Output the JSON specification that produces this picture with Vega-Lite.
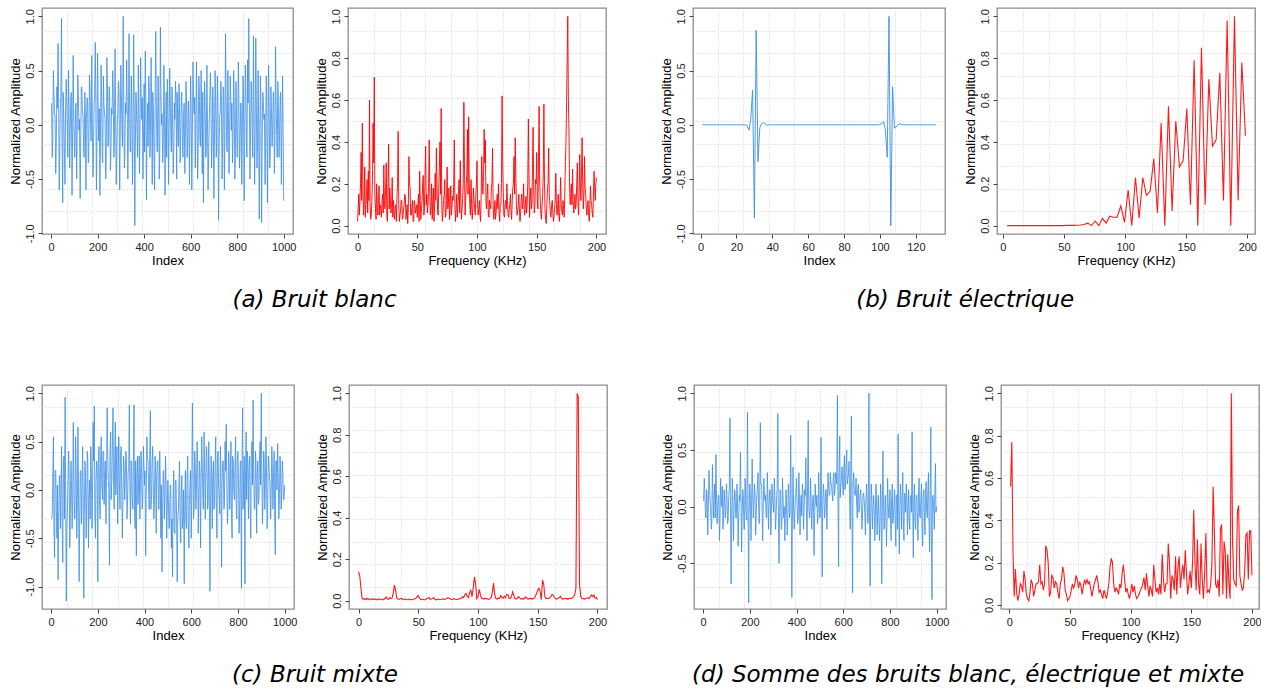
{
"$schema": "https://vega.github.io/schema/vega-lite/v6.json",
"background": "white",
"padding": {"left": 8, "top": 7, "right": 0, "bottom": 0},
"config": {
  "view": {"stroke": "#8c8c8c", "strokeWidth": 1.3},
  "axis": {"labelFont": "Liberation Sans", "titleFont": "Liberation Sans", "labelFontSize": 11, "titleFontSize": 13, "titleFontWeight": "normal", "labelColor": "#222222", "titleColor": "#000000", "tickColor": "#444444", "tickSize": 4, "domain": false, "grid": false, "labelFlush": false, "labelOverlap": false, "labelPadding": 3, "titlePadding": 2, "gridColor": "#d0d0d0", "gridDash": [1, 2]},
  "axisY": {"labelAngle": -90, "labelAlign": "center", "labelBaseline": "bottom"},
  "line": {"strokeWidth": 0.8}
},
"datasets": {
"white_time": [{"i":5,"v":-0.3},{"i":10,"v":0.5},{"i":15,"v":0.1},{"i":20,"v":-0.45},{"i":25,"v":0.35},{"i":30,"v":0.75},{"i":35,"v":-0.6},{"i":40,"v":0.2},{"i":45,"v":0.98},{"i":50,"v":-0.72},
{"i":55,"v":0.05},{"i":60,"v":-0.55},{"i":65,"v":0.42},{"i":70,"v":-0.1},{"i":75,"v":0.5},{"i":80,"v":-0.4},{"i":85,"v":0.25},{"i":90,"v":-0.65},{"i":95,"v":0.64},{"i":100,"v":-0.2},
{"i":105,"v":0.15},{"i":110,"v":-0.5},{"i":115,"v":0.46},{"i":120,"v":-0.05},{"i":125,"v":-0.68},{"i":130,"v":0.35},{"i":135,"v":0.1},{"i":140,"v":-0.2},{"i":145,"v":0.3},{"i":150,"v":-0.6},
{"i":155,"v":0.25},{"i":160,"v":-0.35},{"i":165,"v":0.46},{"i":170,"v":0.0},{"i":175,"v":0.64},{"i":180,"v":-0.48},{"i":185,"v":0.2},{"i":190,"v":0.76},{"i":195,"v":-0.6},{"i":200,"v":0.66},
{"i":205,"v":-0.15},{"i":210,"v":-0.65},{"i":215,"v":0.55},{"i":220,"v":-0.3},{"i":225,"v":0.45},{"i":230,"v":0.1},{"i":235,"v":-0.5},{"i":240,"v":0.62},{"i":245,"v":-0.2},{"i":250,"v":0.35},
{"i":255,"v":-0.42},{"i":260,"v":0.15},{"i":265,"v":0.5},{"i":270,"v":-0.3},{"i":275,"v":0.7},{"i":280,"v":-0.55},{"i":285,"v":0.05},{"i":290,"v":0.4},{"i":295,"v":-0.6},{"i":300,"v":0.55},
{"i":305,"v":-0.1},{"i":310,"v":1.0},{"i":315,"v":-0.4},{"i":320,"v":0.2},{"i":325,"v":0.6},{"i":330,"v":-0.5},{"i":335,"v":0.84},{"i":340,"v":-0.25},{"i":345,"v":0.45},{"i":350,"v":-0.55},
{"i":355,"v":0.83},{"i":360,"v":-0.93},{"i":365,"v":0.3},{"i":370,"v":-0.1},{"i":375,"v":0.55},{"i":380,"v":-0.45},{"i":385,"v":0.62},{"i":390,"v":0.05},{"i":395,"v":-0.5},{"i":400,"v":0.38},
{"i":405,"v":0.68},{"i":410,"v":-0.69},{"i":415,"v":0.2},{"i":420,"v":0.45},{"i":425,"v":-0.3},{"i":430,"v":0.62},{"i":435,"v":-0.55},{"i":440,"v":0.1},{"i":445,"v":-0.6},{"i":450,"v":0.86},
{"i":455,"v":-0.2},{"i":460,"v":0.45},{"i":465,"v":-0.5},{"i":470,"v":0.9},{"i":475,"v":0.0},{"i":480,"v":-0.35},{"i":485,"v":0.55},{"i":490,"v":-0.65},{"i":495,"v":0.3},{"i":500,"v":0.42},
{"i":505,"v":-0.55},{"i":510,"v":0.52},{"i":515,"v":-0.1},{"i":520,"v":0.35},{"i":525,"v":-0.45},{"i":530,"v":0.2},{"i":535,"v":0.4},{"i":540,"v":-0.5},{"i":545,"v":-0.05},{"i":550,"v":0.38},
{"i":555,"v":-0.35},{"i":560,"v":0.25},{"i":565,"v":-0.2},{"i":570,"v":0.1},{"i":575,"v":-0.45},{"i":580,"v":0.4},{"i":585,"v":-0.3},{"i":590,"v":0.22},{"i":595,"v":-0.55},{"i":600,"v":0.45},
{"i":605,"v":-0.6},{"i":610,"v":0.58},{"i":615,"v":0.1},{"i":620,"v":-0.4},{"i":625,"v":0.58},{"i":630,"v":-0.5},{"i":635,"v":0.45},{"i":640,"v":-0.15},{"i":645,"v":0.5},{"i":650,"v":-0.45},
{"i":655,"v":-0.72},{"i":660,"v":0.4},{"i":665,"v":-0.3},{"i":670,"v":0.55},{"i":675,"v":-0.6},{"i":680,"v":0.05},{"i":685,"v":0.48},{"i":690,"v":-0.4},{"i":695,"v":0.35},{"i":700,"v":-0.68},
{"i":705,"v":0.5},{"i":710,"v":-0.3},{"i":715,"v":0.45},{"i":720,"v":-0.88},{"i":725,"v":0.1},{"i":730,"v":0.4},{"i":735,"v":-0.5},{"i":740,"v":0.35},{"i":745,"v":-0.6},{"i":750,"v":0.84},
{"i":755,"v":-0.2},{"i":760,"v":0.5},{"i":765,"v":-0.45},{"i":770,"v":0.45},{"i":775,"v":-0.05},{"i":780,"v":-0.35},{"i":785,"v":0.5},{"i":790,"v":-0.5},{"i":795,"v":0.4},{"i":800,"v":-0.3},
{"i":805,"v":0.58},{"i":810,"v":-0.4},{"i":815,"v":0.2},{"i":820,"v":-0.55},{"i":825,"v":0.45},{"i":830,"v":-0.7},{"i":835,"v":0.55},{"i":840,"v":-0.15},{"i":845,"v":0.6},{"i":850,"v":0.98},
{"i":855,"v":-0.5},{"i":860,"v":0.4},{"i":865,"v":-0.1},{"i":870,"v":0.82},{"i":875,"v":-0.55},{"i":880,"v":0.8},{"i":885,"v":-0.4},{"i":890,"v":0.5},{"i":895,"v":-0.87},{"i":900,"v":0.45},
{"i":905,"v":-0.9},{"i":910,"v":0.3},{"i":915,"v":0.05},{"i":920,"v":-0.55},{"i":925,"v":0.45},{"i":930,"v":-0.72},{"i":935,"v":0.55},{"i":940,"v":-0.4},{"i":945,"v":0.35},{"i":950,"v":-0.2},
{"i":955,"v":0.3},{"i":960,"v":-0.45},{"i":965,"v":0.72},{"i":970,"v":-0.1},{"i":975,"v":0.4},{"i":980,"v":-0.3},{"i":985,"v":0.25},{"i":990,"v":-0.55},{"i":995,"v":0.45},{"i":1000,"v":-0.7},
{"i":2,"v":0.2},{"i":7,"v":-0.15},{"i":12,"v":0.3},{"i":17,"v":0.1},{"i":22,"v":-0.25},{"i":27,"v":0.15},{"i":32,"v":0.35},{"i":37,"v":-0.3},{"i":42,"v":0.25},{"i":47,"v":-0.1},
{"i":52,"v":0.3},{"i":57,"v":-0.2},{"i":62,"v":0.1},{"i":67,"v":0.25},{"i":72,"v":-0.3},{"i":77,"v":0.2},{"i":82,"v":-0.05},{"i":87,"v":0.3},{"i":92,"v":-0.25},{"i":97,"v":0.15},
{"i":102,"v":-0.3},{"i":107,"v":0.2},{"i":112,"v":-0.1},{"i":117,"v":0.3},{"i":122,"v":0.05},{"i":127,"v":-0.25},{"i":132,"v":0.35},{"i":137,"v":0.1},{"i":142,"v":-0.3},{"i":147,"v":0.15},
{"i":152,"v":0.05},{"i":157,"v":0.2},{"i":162,"v":-0.3},{"i":167,"v":0.35},{"i":172,"v":-0.15},{"i":177,"v":0.1},{"i":182,"v":-0.35},{"i":187,"v":0.25},{"i":192,"v":0.3},{"i":197,"v":-0.2},
{"i":202,"v":0.25},{"i":207,"v":0.15},{"i":212,"v":-0.2},{"i":217,"v":0.3},{"i":222,"v":-0.35},{"i":227,"v":0.2},{"i":232,"v":0.05},{"i":237,"v":-0.3},{"i":242,"v":0.4},{"i":247,"v":-0.1},
{"i":252,"v":0.2},{"i":257,"v":-0.3},{"i":262,"v":0.1},{"i":267,"v":0.35},{"i":272,"v":-0.2},{"i":277,"v":0.25},{"i":282,"v":-0.3},{"i":287,"v":0.1},{"i":292,"v":0.3},{"i":297,"v":-0.15},
{"i":302,"v":0.3},{"i":307,"v":-0.2},{"i":312,"v":0.35},{"i":317,"v":-0.3},{"i":322,"v":0.1},{"i":327,"v":0.25},{"i":332,"v":-0.15},{"i":337,"v":0.3},{"i":342,"v":-0.25},{"i":347,"v":0.2},
{"i":352,"v":-0.2},{"i":357,"v":0.35},{"i":362,"v":-0.25},{"i":367,"v":0.15},{"i":372,"v":-0.3},{"i":377,"v":0.2},{"i":382,"v":-0.1},{"i":387,"v":0.3},{"i":392,"v":0.25},{"i":397,"v":-0.2},
{"i":402,"v":-0.25},{"i":407,"v":0.3},{"i":412,"v":-0.1},{"i":417,"v":-0.2},{"i":422,"v":0.35},{"i":427,"v":-0.1},{"i":432,"v":0.2},{"i":437,"v":0.3},{"i":442,"v":-0.25},{"i":447,"v":0.15},
{"i":452,"v":0.3},{"i":457,"v":-0.25},{"i":462,"v":0.2},{"i":467,"v":-0.3},{"i":472,"v":0.35},{"i":477,"v":0.1},{"i":482,"v":-0.2},{"i":487,"v":0.25},{"i":492,"v":-0.15},{"i":497,"v":-0.3},
{"i":502,"v":0.2},{"i":507,"v":-0.15},{"i":512,"v":0.3},{"i":517,"v":-0.25},{"i":522,"v":0.1},{"i":527,"v":-0.3},{"i":532,"v":0.05},{"i":537,"v":0.25},{"i":542,"v":0.3},{"i":547,"v":-0.2},
{"i":552,"v":0.15},{"i":557,"v":-0.1},{"i":562,"v":0.3},{"i":567,"v":-0.3},{"i":572,"v":0.2},{"i":577,"v":-0.15},{"i":582,"v":0.25},{"i":587,"v":-0.2},{"i":592,"v":0.1},{"i":597,"v":-0.05},
{"i":602,"v":0.2},{"i":607,"v":-0.2},{"i":612,"v":0.3},{"i":617,"v":0.25},{"i":622,"v":-0.1},{"i":627,"v":0.2},{"i":632,"v":-0.3},{"i":637,"v":0.35},{"i":642,"v":-0.2},{"i":647,"v":0.1},
{"i":652,"v":0.3},{"i":657,"v":-0.15},{"i":662,"v":0.2},{"i":667,"v":-0.25},{"i":672,"v":0.1},{"i":677,"v":-0.3},{"i":682,"v":0.2},{"i":687,"v":0.25},{"i":692,"v":-0.2},{"i":697,"v":0.15},
{"i":702,"v":-0.2},{"i":707,"v":0.3},{"i":712,"v":-0.15},{"i":717,"v":0.2},{"i":722,"v":-0.3},{"i":727,"v":0.1},{"i":732,"v":0.25},{"i":737,"v":-0.25},{"i":742,"v":0.3},{"i":747,"v":-0.1},
{"i":752,"v":0.3},{"i":757,"v":-0.25},{"i":762,"v":0.15},{"i":767,"v":-0.2},{"i":772,"v":0.3},{"i":777,"v":0.2},{"i":782,"v":-0.15},{"i":787,"v":0.25},{"i":792,"v":-0.3},{"i":797,"v":0.1},
{"i":802,"v":-0.2},{"i":807,"v":0.3},{"i":812,"v":-0.25},{"i":817,"v":0.2},{"i":822,"v":-0.1},{"i":827,"v":0.3},{"i":832,"v":-0.2},{"i":837,"v":0.35},{"i":842,"v":-0.3},{"i":847,"v":0.2},
{"i":852,"v":0.35},{"i":857,"v":-0.2},{"i":862,"v":0.3},{"i":867,"v":-0.3},{"i":872,"v":0.2},{"i":877,"v":-0.15},{"i":882,"v":0.35},{"i":887,"v":-0.25},{"i":892,"v":0.1},{"i":897,"v":-0.2},
{"i":902,"v":0.2},{"i":907,"v":-0.3},{"i":912,"v":0.25},{"i":917,"v":0.1},{"i":922,"v":-0.2},{"i":927,"v":0.3},{"i":932,"v":-0.15},{"i":937,"v":0.2},{"i":942,"v":-0.3},{"i":947,"v":0.15},
{"i":952,"v":-0.1},{"i":957,"v":0.3},{"i":962,"v":-0.2},{"i":967,"v":0.25},{"i":972,"v":-0.3},{"i":977,"v":0.2},{"i":982,"v":-0.1},{"i":987,"v":0.3},{"i":992,"v":-0.15},{"i":997,"v":0.1}],
"white_freq": [{"f":0,"v":0.02},{"f":1,"v":0.15},{"f":2,"v":0.12},{"f":3,"v":0.35},{"f":4,"v":0.49},{"f":5,"v":0.05},{"f":6,"v":0.28},{"f":7,"v":0.1},{"f":8,"v":0.22},{"f":9,"v":0.26},
{"f":10,"v":0.6},{"f":11,"v":0.03},{"f":12,"v":0.12},{"f":13,"v":0.49},{"f":14,"v":0.71},{"f":15,"v":0.08},{"f":16,"v":0.2},{"f":17,"v":0.05},{"f":18,"v":0.19},{"f":19,"v":0.1},
{"f":20,"v":0.04},{"f":21,"v":0.15},{"f":22,"v":0.29},{"f":23,"v":0.08},{"f":24,"v":0.3},{"f":25,"v":0.02},{"f":26,"v":0.39},{"f":27,"v":0.18},{"f":28,"v":0.06},{"f":29,"v":0.23},
{"f":30,"v":0.12},{"f":31,"v":0.03},{"f":32,"v":0.1},{"f":33,"v":0.14},{"f":34,"v":0.45},{"f":35,"v":0.02},{"f":36,"v":0.07},{"f":37,"v":0.12},{"f":38,"v":0.04},{"f":39,"v":0.1},
{"f":40,"v":0.14},{"f":41,"v":0.06},{"f":42,"v":0.01},{"f":43,"v":0.33},{"f":44,"v":0.18},{"f":45,"v":0.05},{"f":46,"v":0.12},{"f":47,"v":0.02},{"f":48,"v":0.1},{"f":49,"v":0.08},
{"f":50,"v":0.04},{"f":51,"v":0.15},{"f":52,"v":0.26},{"f":53,"v":0.03},{"f":54,"v":0.12},{"f":55,"v":0.24},{"f":56,"v":0.08},{"f":57,"v":0.38},{"f":58,"v":0.15},{"f":59,"v":0.1},
{"f":60,"v":0.41},{"f":61,"v":0.05},{"f":62,"v":0.2},{"f":63,"v":0.12},{"f":64,"v":0.02},{"f":65,"v":0.25},{"f":66,"v":0.37},{"f":67,"v":0.07},{"f":68,"v":0.18},{"f":69,"v":0.4},
{"f":70,"v":0.56},{"f":71,"v":0.02},{"f":72,"v":0.12},{"f":73,"v":0.22},{"f":74,"v":0.05},{"f":75,"v":0.28},{"f":76,"v":0.1},{"f":77,"v":0.03},{"f":78,"v":0.19},{"f":79,"v":0.08},
{"f":80,"v":0.12},{"f":81,"v":0.41},{"f":82,"v":0.02},{"f":83,"v":0.15},{"f":84,"v":0.09},{"f":85,"v":0.22},{"f":86,"v":0.31},{"f":87,"v":0.03},{"f":88,"v":0.13},{"f":89,"v":0.59},
{"f":90,"v":0.05},{"f":91,"v":0.2},{"f":92,"v":0.46},{"f":93,"v":0.52},{"f":94,"v":0.1},{"f":95,"v":0.22},{"f":96,"v":0.03},{"f":97,"v":0.18},{"f":98,"v":0.08},{"f":99,"v":0.14},
{"f":100,"v":0.31},{"f":101,"v":0.05},{"f":102,"v":0.12},{"f":103,"v":0.02},{"f":104,"v":0.33},{"f":105,"v":0.15},{"f":106,"v":0.46},{"f":107,"v":0.41},{"f":108,"v":0.08},{"f":109,"v":0.2},
{"f":110,"v":0.04},{"f":111,"v":0.1},{"f":112,"v":0.18},{"f":113,"v":0.37},{"f":114,"v":0.03},{"f":115,"v":0.12},{"f":116,"v":0.06},{"f":117,"v":0.15},{"f":118,"v":0.2},{"f":119,"v":0.02},
{"f":120,"v":0.1},{"f":121,"v":0.62},{"f":122,"v":0.16},{"f":123,"v":0.04},{"f":124,"v":0.12},{"f":125,"v":0.2},{"f":126,"v":0.05},{"f":127,"v":0.08},{"f":128,"v":0.15},{"f":129,"v":0.03},
{"f":130,"v":0.18},{"f":131,"v":0.33},{"f":132,"v":0.42},{"f":133,"v":0.1},{"f":134,"v":0.06},{"f":135,"v":0.15},{"f":136,"v":0.02},{"f":137,"v":0.12},{"f":138,"v":0.08},{"f":139,"v":0.2},
{"f":140,"v":0.05},{"f":141,"v":0.14},{"f":142,"v":0.1},{"f":143,"v":0.51},{"f":144,"v":0.04},{"f":145,"v":0.18},{"f":146,"v":0.1},{"f":147,"v":0.47},{"f":148,"v":0.06},{"f":149,"v":0.22},
{"f":150,"v":0.35},{"f":151,"v":0.08},{"f":152,"v":0.57},{"f":153,"v":0.12},{"f":154,"v":0.03},{"f":155,"v":0.15},{"f":156,"v":0.58},{"f":157,"v":0.06},{"f":158,"v":0.01},{"f":159,"v":0.18},
{"f":160,"v":0.37},{"f":161,"v":0.1},{"f":162,"v":0.04},{"f":163,"v":0.12},{"f":164,"v":0.02},{"f":165,"v":0.08},{"f":166,"v":0.25},{"f":167,"v":0.05},{"f":168,"v":0.15},{"f":169,"v":0.02},
{"f":170,"v":0.23},{"f":171,"v":0.07},{"f":172,"v":0.12},{"f":173,"v":0.04},{"f":174,"v":0.3},{"f":175,"v":0.59},{"f":176,"v":1.0},{"f":177,"v":0.45},{"f":178,"v":0.1},{"f":179,"v":0.2},
{"f":180,"v":0.27},{"f":181,"v":0.06},{"f":182,"v":0.15},{"f":183,"v":0.1},{"f":184,"v":0.3},{"f":185,"v":0.05},{"f":186,"v":0.34},{"f":187,"v":0.12},{"f":188,"v":0.42},{"f":189,"v":0.08},
{"f":190,"v":0.33},{"f":191,"v":0.15},{"f":192,"v":0.05},{"f":193,"v":0.12},{"f":194,"v":0.02},{"f":195,"v":0.19},{"f":196,"v":0.1},{"f":197,"v":0.04},{"f":198,"v":0.26},{"f":199,"v":0.12},{"f":200,"v":0.23},
{"f":0.5,"v":0.08},{"f":1.5,"v":0.05},{"f":2.5,"v":0.2},{"f":3.5,"v":0.12},{"f":4.5,"v":0.18},{"f":5.5,"v":0.1},{"f":6.5,"v":0.04},{"f":7.5,"v":0.15},{"f":8.5,"v":0.06},{"f":9.5,"v":0.12},
{"f":10.5,"v":0.1},{"f":11.5,"v":0.05},{"f":12.5,"v":0.22},{"f":13.5,"v":0.3},{"f":14.5,"v":0.15},{"f":15.5,"v":0.03},{"f":16.5,"v":0.1},{"f":17.5,"v":0.12},{"f":18.5,"v":0.05},{"f":19.5,"v":0.08},
{"f":20.5,"v":0.12},{"f":21.5,"v":0.06},{"f":22.5,"v":0.1},{"f":23.5,"v":0.18},{"f":24.5,"v":0.05},{"f":25.5,"v":0.2},{"f":26.5,"v":0.08},{"f":27.5,"v":0.12},{"f":28.5,"v":0.1},{"f":29.5,"v":0.04},
{"f":30.5,"v":0.06},{"f":31.5,"v":0.09},{"f":32.5,"v":0.02},{"f":33.5,"v":0.2},{"f":34.5,"v":0.1},{"f":35.5,"v":0.05},{"f":36.5,"v":0.12},{"f":37.5,"v":0.03},{"f":38.5,"v":0.08},{"f":39.5,"v":0.15},
{"f":40.5,"v":0.03},{"f":41.5,"v":0.1},{"f":42.5,"v":0.08},{"f":43.5,"v":0.2},{"f":44.5,"v":0.05},{"f":45.5,"v":0.09},{"f":46.5,"v":0.02},{"f":47.5,"v":0.12},{"f":48.5,"v":0.06},{"f":49.5,"v":0.1},
{"f":50.5,"v":0.1},{"f":51.5,"v":0.02},{"f":52.5,"v":0.12},{"f":53.5,"v":0.08},{"f":54.5,"v":0.2},{"f":55.5,"v":0.05},{"f":56.5,"v":0.25},{"f":57.5,"v":0.1},{"f":58.5,"v":0.06},{"f":59.5,"v":0.2},
{"f":60.5,"v":0.15},{"f":61.5,"v":0.08},{"f":62.5,"v":0.03},{"f":63.5,"v":0.18},{"f":64.5,"v":0.1},{"f":65.5,"v":0.12},{"f":66.5,"v":0.2},{"f":67.5,"v":0.05},{"f":68.5,"v":0.28},{"f":69.5,"v":0.15},
{"f":70.5,"v":0.1},{"f":71.5,"v":0.06},{"f":72.5,"v":0.15},{"f":73.5,"v":0.04},{"f":74.5,"v":0.12},{"f":75.5,"v":0.08},{"f":76.5,"v":0.18},{"f":77.5,"v":0.1},{"f":78.5,"v":0.05},{"f":79.5,"v":0.14},
{"f":80.5,"v":0.2},{"f":81.5,"v":0.1},{"f":82.5,"v":0.08},{"f":83.5,"v":0.04},{"f":84.5,"v":0.15},{"f":85.5,"v":0.06},{"f":86.5,"v":0.12},{"f":87.5,"v":0.08},{"f":88.5,"v":0.2},{"f":89.5,"v":0.3},
{"f":90.5,"v":0.12},{"f":91.5,"v":0.25},{"f":92.5,"v":0.15},{"f":93.5,"v":0.2},{"f":94.5,"v":0.05},{"f":95.5,"v":0.1},{"f":96.5,"v":0.08},{"f":97.5,"v":0.12},{"f":98.5,"v":0.05},{"f":99.5,"v":0.2},
{"f":100.5,"v":0.1},{"f":101.5,"v":0.08},{"f":102.5,"v":0.05},{"f":103.5,"v":0.15},{"f":104.5,"v":0.2},{"f":105.5,"v":0.25},{"f":106.5,"v":0.3},{"f":107.5,"v":0.12},{"f":108.5,"v":0.15},{"f":109.5,"v":0.05},
{"f":110.5,"v":0.12},{"f":111.5,"v":0.08},{"f":112.5,"v":0.2},{"f":113.5,"v":0.1},{"f":114.5,"v":0.07},{"f":115.5,"v":0.03},{"f":116.5,"v":0.12},{"f":117.5,"v":0.08},{"f":118.5,"v":0.06},{"f":119.5,"v":0.1},
{"f":120.5,"v":0.2},{"f":121.5,"v":0.3},{"f":122.5,"v":0.05},{"f":123.5,"v":0.1},{"f":124.5,"v":0.08},{"f":125.5,"v":0.12},{"f":126.5,"v":0.04},{"f":127.5,"v":0.1},{"f":128.5,"v":0.06},{"f":129.5,"v":0.12},
{"f":130.5,"v":0.2},{"f":131.5,"v":0.15},{"f":132.5,"v":0.25},{"f":133.5,"v":0.05},{"f":134.5,"v":0.1},{"f":135.5,"v":0.08},{"f":136.5,"v":0.06},{"f":137.5,"v":0.15},{"f":138.5,"v":0.1},{"f":139.5,"v":0.08},
{"f":140.5,"v":0.1},{"f":141.5,"v":0.06},{"f":142.5,"v":0.2},{"f":143.5,"v":0.25},{"f":144.5,"v":0.12},{"f":145.5,"v":0.08},{"f":146.5,"v":0.3},{"f":147.5,"v":0.15},{"f":148.5,"v":0.1},{"f":149.5,"v":0.2},
{"f":150.5,"v":0.12},{"f":151.5,"v":0.3},{"f":152.5,"v":0.2},{"f":153.5,"v":0.05},{"f":154.5,"v":0.1},{"f":155.5,"v":0.25},{"f":156.5,"v":0.2},{"f":157.5,"v":0.03},{"f":158.5,"v":0.1},{"f":159.5,"v":0.2},
{"f":160.5,"v":0.15},{"f":161.5,"v":0.05},{"f":162.5,"v":0.1},{"f":163.5,"v":0.06},{"f":164.5,"v":0.05},{"f":165.5,"v":0.12},{"f":166.5,"v":0.1},{"f":167.5,"v":0.08},{"f":168.5,"v":0.05},{"f":169.5,"v":0.1},
{"f":170.5,"v":0.1},{"f":171.5,"v":0.05},{"f":172.5,"v":0.08},{"f":173.5,"v":0.15},{"f":174.5,"v":0.4},{"f":175.5,"v":0.8},{"f":176.5,"v":0.6},{"f":177.5,"v":0.2},{"f":178.5,"v":0.15},{"f":179.5,"v":0.1},
{"f":180.5,"v":0.12},{"f":181.5,"v":0.1},{"f":182.5,"v":0.08},{"f":183.5,"v":0.2},{"f":184.5,"v":0.12},{"f":185.5,"v":0.15},{"f":186.5,"v":0.2},{"f":187.5,"v":0.25},{"f":188.5,"v":0.2},{"f":189.5,"v":0.15},
{"f":190.5,"v":0.18},{"f":191.5,"v":0.08},{"f":192.5,"v":0.1},{"f":193.5,"v":0.05},{"f":194.5,"v":0.1},{"f":195.5,"v":0.12},{"f":196.5,"v":0.06},{"f":197.5,"v":0.15},{"f":198.5,"v":0.18},{"f":199.5,"v":0.2}],
"elec_time": [{"i":1,"v":0},{"i":2,"v":0},{"i":3,"v":0},{"i":4,"v":0},{"i":5,"v":0},{"i":6,"v":0},{"i":7,"v":0},{"i":8,"v":0},{"i":9,"v":0},{"i":10,"v":0},
{"i":11,"v":0},{"i":12,"v":0},{"i":13,"v":0},{"i":14,"v":0},{"i":15,"v":0},{"i":16,"v":0},{"i":17,"v":0},{"i":18,"v":0},{"i":19,"v":0},{"i":20,"v":0},
{"i":21,"v":0},{"i":22,"v":0},{"i":23,"v":0},{"i":24,"v":0},{"i":25,"v":0},{"i":26,"v":-0.01},{"i":27,"v":-0.05},{"i":28,"v":0.06},{"i":29,"v":0.32},{"i":30,"v":-0.86},
{"i":31,"v":0.87},{"i":32,"v":-0.34},{"i":33,"v":-0.03},{"i":34,"v":0.01},{"i":35,"v":0.02},{"i":36,"v":0.01},{"i":37,"v":-0.005},{"i":38,"v":0},{"i":39,"v":0},{"i":40,"v":0},
{"i":41,"v":0},{"i":42,"v":0},{"i":43,"v":0},{"i":44,"v":0},{"i":45,"v":0},{"i":46,"v":0},{"i":47,"v":0},{"i":48,"v":0},{"i":49,"v":0},{"i":50,"v":0},
{"i":51,"v":0},{"i":52,"v":0},{"i":53,"v":0},{"i":54,"v":0},{"i":55,"v":0},{"i":56,"v":0},{"i":57,"v":0},{"i":58,"v":0},{"i":59,"v":0},{"i":60,"v":0},
{"i":61,"v":0},{"i":62,"v":0},{"i":63,"v":0},{"i":64,"v":0},{"i":65,"v":0},{"i":66,"v":0},{"i":67,"v":0},{"i":68,"v":0},{"i":69,"v":0},{"i":70,"v":0},
{"i":71,"v":0},{"i":72,"v":0},{"i":73,"v":0},{"i":74,"v":0},{"i":75,"v":0},{"i":76,"v":0},{"i":77,"v":0},{"i":78,"v":0},{"i":79,"v":0},{"i":80,"v":0},
{"i":81,"v":0},{"i":82,"v":0},{"i":83,"v":0},{"i":84,"v":0},{"i":85,"v":0},{"i":86,"v":0},{"i":87,"v":0},{"i":88,"v":0},{"i":89,"v":0},{"i":90,"v":0},
{"i":91,"v":0},{"i":92,"v":0},{"i":93,"v":0},{"i":94,"v":0},{"i":95,"v":0},{"i":96,"v":0},{"i":97,"v":0},{"i":98,"v":0},{"i":99,"v":0},{"i":100,"v":0.005},
{"i":101,"v":0.01},{"i":102,"v":0.03},{"i":103,"v":-0.05},{"i":104,"v":-0.3},{"i":105,"v":1.0},{"i":106,"v":-0.93},{"i":107,"v":0.35},{"i":108,"v":-0.03},{"i":109,"v":-0.02},{"i":110,"v":0.0},
{"i":111,"v":0.01},{"i":112,"v":0.005},{"i":113,"v":0},{"i":114,"v":0},{"i":115,"v":0},{"i":116,"v":0},{"i":117,"v":0},{"i":118,"v":0},{"i":119,"v":0},{"i":120,"v":0},
{"i":121,"v":0},{"i":122,"v":0},{"i":123,"v":0},{"i":124,"v":0},{"i":125,"v":0},{"i":126,"v":0},{"i":127,"v":0},{"i":128,"v":0},{"i":129,"v":0},{"i":130,"v":0},{"i":131,"v":0}],
"elec_freq": [{"f":3.5,"v":0},{"f":6.5,"v":0},{"f":9.5,"v":0},{"f":12.5,"v":0},{"f":15.5,"v":0},{"f":18.5,"v":0},{"f":21.5,"v":0},{"f":24.5,"v":0},{"f":27.5,"v":0},{"f":30.5,"v":0},
{"f":33.5,"v":0},{"f":36.5,"v":0},{"f":39.5,"v":0},{"f":42.5,"v":0},{"f":45.5,"v":0},{"f":48.5,"v":0},{"f":51.5,"v":0.001},{"f":54.5,"v":0.001},{"f":57.5,"v":0.001},{"f":60.5,"v":0.002},
{"f":63.5,"v":0.003},{"f":66.5,"v":0.005},{"f":69.5,"v":0.012},{"f":72.5,"v":0},{"f":75.5,"v":0.022},{"f":78.5,"v":0},{"f":81.5,"v":0.035},{"f":84.5,"v":0.012},{"f":87.5,"v":0.045},{"f":90.5,"v":0.04},
{"f":93.5,"v":0.04},{"f":96.5,"v":0.095},{"f":99.5,"v":0.015},{"f":102.5,"v":0.17},{"f":105.5,"v":0},{"f":108.5,"v":0.23},{"f":111.5,"v":0.035},{"f":114.5,"v":0.23},{"f":117.5,"v":0.145},{"f":120.5,"v":0.165},
{"f":123.5,"v":0.32},{"f":126.5,"v":0.06},{"f":129.5,"v":0.49},{"f":132.5,"v":0},{"f":135.5,"v":0.57},{"f":138.5,"v":0.07},{"f":141.5,"v":0.5},{"f":144.5,"v":0.28},{"f":147.5,"v":0.31},{"f":150.5,"v":0.56},
{"f":153.5,"v":0.1},{"f":156.5,"v":0.79},{"f":159.5,"v":0},{"f":162.5,"v":0.85},{"f":165.5,"v":0.1},{"f":168.5,"v":0.7},{"f":171.5,"v":0.38},{"f":174.5,"v":0.41},{"f":177.5,"v":0.73},{"f":180.5,"v":0.12},
{"f":183.5,"v":0.98},{"f":186.5,"v":0},{"f":189.5,"v":1.0},{"f":192.5,"v":0.12},{"f":195.5,"v":0.78},{"f":198.5,"v":0.43}],
"mixed_time": [{"i":5,"v":-0.25},{"i":10,"v":0.55},{"i":15,"v":-0.7},{"i":20,"v":0.2},{"i":25,"v":-0.5},{"i":30,"v":-0.93},{"i":35,"v":0.1},{"i":40,"v":-0.4},{"i":45,"v":0.45},{"i":50,"v":-0.75},
{"i":55,"v":0.35},{"i":60,"v":0.96},{"i":65,"v":-1.15},{"i":70,"v":-0.2},{"i":75,"v":0.4},{"i":80,"v":-0.6},{"i":85,"v":0.3},{"i":90,"v":-0.4},{"i":95,"v":0.7},{"i":100,"v":-0.3},
{"i":105,"v":0.55},{"i":110,"v":-0.5},{"i":115,"v":0.65},{"i":120,"v":-0.95},{"i":125,"v":0.2},{"i":130,"v":-0.35},{"i":135,"v":0.45},{"i":140,"v":-1.12},{"i":145,"v":0.3},{"i":150,"v":-0.5},
{"i":155,"v":0.4},{"i":160,"v":-0.6},{"i":165,"v":0.1},{"i":170,"v":0.45},{"i":175,"v":-0.4},{"i":180,"v":0.7},{"i":185,"v":0.87},{"i":190,"v":-0.5},{"i":195,"v":0.3},{"i":200,"v":-0.95},
{"i":205,"v":0.45},{"i":210,"v":-0.3},{"i":215,"v":0.55},{"i":220,"v":-0.1},{"i":225,"v":0.4},{"i":230,"v":0.2},{"i":235,"v":-0.35},{"i":240,"v":0.85},{"i":245,"v":0.1},{"i":250,"v":-0.78},
{"i":255,"v":0.6},{"i":260,"v":0.1},{"i":265,"v":0.85},{"i":270,"v":-0.2},{"i":275,"v":0.7},{"i":280,"v":0.3},{"i":285,"v":-0.35},{"i":290,"v":0.55},{"i":295,"v":-0.2},{"i":300,"v":0.45},
{"i":305,"v":-0.5},{"i":310,"v":0.35},{"i":315,"v":-0.1},{"i":320,"v":0.4},{"i":325,"v":-0.3},{"i":330,"v":0.2},{"i":335,"v":0.88},{"i":340,"v":-0.35},{"i":345,"v":0.3},{"i":350,"v":-0.2},
{"i":355,"v":0.88},{"i":360,"v":-0.4},{"i":365,"v":-0.68},{"i":370,"v":0.35},{"i":375,"v":0.1},{"i":380,"v":-0.3},{"i":385,"v":0.4},{"i":390,"v":-0.2},{"i":395,"v":0.45},{"i":400,"v":0.05},
{"i":405,"v":-0.68},{"i":410,"v":0.55},{"i":415,"v":0.3},{"i":420,"v":-0.2},{"i":425,"v":0.82},{"i":430,"v":-0.1},{"i":435,"v":0.45},{"i":440,"v":-0.3},{"i":445,"v":0.35},{"i":450,"v":-0.45},
{"i":455,"v":0.3},{"i":460,"v":-0.2},{"i":465,"v":0.4},{"i":470,"v":-0.5},{"i":475,"v":-0.85},{"i":480,"v":0.2},{"i":485,"v":-0.3},{"i":490,"v":0.35},{"i":495,"v":-0.5},{"i":500,"v":0.1},
{"i":505,"v":-0.4},{"i":510,"v":0.05},{"i":515,"v":-0.6},{"i":520,"v":-0.9},{"i":525,"v":0.2},{"i":530,"v":-0.45},{"i":535,"v":0.1},{"i":540,"v":-0.95},{"i":545,"v":-0.2},{"i":550,"v":0.3},
{"i":555,"v":-0.55},{"i":560,"v":0.15},{"i":565,"v":-0.3},{"i":570,"v":-0.97},{"i":575,"v":0.2},{"i":580,"v":-0.4},{"i":585,"v":0.35},{"i":590,"v":-0.6},{"i":595,"v":0.1},{"i":600,"v":-0.5},
{"i":605,"v":0.9},{"i":610,"v":-0.3},{"i":615,"v":0.4},{"i":620,"v":-0.2},{"i":625,"v":0.5},{"i":630,"v":-0.45},{"i":635,"v":0.3},{"i":640,"v":-0.6},{"i":645,"v":0.55},{"i":650,"v":-0.1},
{"i":655,"v":0.6},{"i":660,"v":-0.3},{"i":665,"v":0.45},{"i":670,"v":-0.2},{"i":675,"v":0.5},{"i":680,"v":-1.05},{"i":685,"v":0.35},{"i":690,"v":-0.4},{"i":695,"v":0.3},{"i":700,"v":-0.15},
{"i":705,"v":0.55},{"i":710,"v":-0.5},{"i":715,"v":0.4},{"i":720,"v":-0.1},{"i":725,"v":0.45},{"i":730,"v":-0.8},{"i":735,"v":0.3},{"i":740,"v":-0.2},{"i":745,"v":0.5},{"i":750,"v":0.68},
{"i":755,"v":-0.35},{"i":760,"v":0.4},{"i":765,"v":-0.2},{"i":770,"v":0.5},{"i":775,"v":-0.5},{"i":780,"v":0.3},{"i":785,"v":-0.1},{"i":790,"v":0.55},{"i":795,"v":-0.3},{"i":800,"v":0.4},
{"i":805,"v":-0.45},{"i":810,"v":0.3},{"i":815,"v":-1.02},{"i":820,"v":0.85},{"i":825,"v":0.2},{"i":830,"v":-0.97},{"i":835,"v":0.6},{"i":840,"v":0.4},{"i":845,"v":-0.3},{"i":850,"v":0.35},
{"i":855,"v":-0.5},{"i":860,"v":0.5},{"i":865,"v":0.93},{"i":870,"v":-0.2},{"i":875,"v":0.4},{"i":880,"v":-0.45},{"i":885,"v":0.3},{"i":890,"v":-0.1},{"i":895,"v":0.5},{"i":900,"v":1.0},
{"i":905,"v":-0.35},{"i":910,"v":0.4},{"i":915,"v":-0.2},{"i":920,"v":0.55},{"i":925,"v":-0.4},{"i":930,"v":0.35},{"i":935,"v":0.1},{"i":940,"v":-0.3},{"i":945,"v":0.45},{"i":950,"v":-0.2},
{"i":955,"v":0.4},{"i":960,"v":-0.67},{"i":965,"v":0.3},{"i":970,"v":0.48},{"i":975,"v":-0.3},{"i":980,"v":0.35},{"i":985,"v":-0.2},{"i":990,"v":0.3},{"i":995,"v":-0.1},{"i":1000,"v":0.05},
{"i":2,"v":-0.3},{"i":7,"v":0.1},{"i":12,"v":-0.4},{"i":17,"v":0.2},{"i":22,"v":-0.2},{"i":27,"v":0.05},{"i":32,"v":-0.35},{"i":37,"v":0.15},{"i":42,"v":-0.1},{"i":47,"v":-0.3},
{"i":52,"v":0.2},{"i":57,"v":-0.3},{"i":62,"v":0.1},{"i":67,"v":-0.4},{"i":72,"v":0.05},{"i":77,"v":0.2},{"i":82,"v":-0.35},{"i":87,"v":0.1},{"i":92,"v":-0.2},{"i":97,"v":0.15},
{"i":102,"v":-0.3},{"i":107,"v":0.25},{"i":112,"v":-0.2},{"i":117,"v":0.1},{"i":122,"v":-0.4},{"i":127,"v":0.2},{"i":132,"v":-0.1},{"i":137,"v":0.05},{"i":142,"v":-0.3},{"i":147,"v":0.15},
{"i":152,"v":-0.2},{"i":157,"v":0.3},{"i":162,"v":-0.1},{"i":167,"v":-0.3},{"i":172,"v":0.25},{"i":177,"v":-0.15},{"i":182,"v":0.3},{"i":187,"v":-0.2},{"i":192,"v":0.1},{"i":197,"v":0.25},
{"i":202,"v":0.3},{"i":207,"v":-0.1},{"i":212,"v":0.35},{"i":217,"v":0.05},{"i":222,"v":0.4},{"i":227,"v":-0.15},{"i":232,"v":0.3},{"i":237,"v":0.1},{"i":242,"v":0.45},{"i":247,"v":0.0},
{"i":252,"v":0.35},{"i":257,"v":-0.1},{"i":262,"v":0.4},{"i":267,"v":0.15},{"i":272,"v":0.3},{"i":277,"v":-0.05},{"i":282,"v":0.45},{"i":287,"v":0.2},{"i":292,"v":0.1},{"i":297,"v":0.35},
{"i":302,"v":0.1},{"i":307,"v":-0.2},{"i":312,"v":0.3},{"i":317,"v":0.05},{"i":322,"v":0.35},{"i":327,"v":-0.15},{"i":332,"v":0.2},{"i":337,"v":0.1},{"i":342,"v":0.3},{"i":347,"v":-0.1},
{"i":352,"v":0.25},{"i":357,"v":-0.2},{"i":362,"v":0.3},{"i":367,"v":0.1},{"i":372,"v":-0.15},{"i":377,"v":0.35},{"i":382,"v":0.0},{"i":387,"v":0.25},{"i":392,"v":-0.1},{"i":397,"v":0.3},
{"i":402,"v":0.2},{"i":407,"v":-0.1},{"i":412,"v":0.35},{"i":417,"v":0.05},{"i":422,"v":0.3},{"i":427,"v":-0.2},{"i":432,"v":0.25},{"i":437,"v":0.1},{"i":442,"v":-0.15},{"i":447,"v":0.3},
{"i":452,"v":0.1},{"i":457,"v":0.3},{"i":462,"v":-0.2},{"i":467,"v":0.15},{"i":472,"v":0.05},{"i":477,"v":-0.3},{"i":482,"v":0.2},{"i":487,"v":-0.1},{"i":492,"v":0.1},{"i":497,"v":-0.25},
{"i":502,"v":-0.1},{"i":507,"v":-0.35},{"i":512,"v":0.05},{"i":517,"v":-0.3},{"i":522,"v":-0.1},{"i":527,"v":-0.4},{"i":532,"v":0.1},{"i":537,"v":-0.25},{"i":542,"v":-0.35},{"i":547,"v":0.05},
{"i":552,"v":-0.3},{"i":557,"v":-0.05},{"i":562,"v":-0.4},{"i":567,"v":0.0},{"i":572,"v":-0.25},{"i":577,"v":-0.35},{"i":582,"v":0.1},{"i":587,"v":-0.3},{"i":592,"v":-0.15},{"i":597,"v":0.2},
{"i":602,"v":-0.1},{"i":607,"v":0.3},{"i":612,"v":-0.2},{"i":617,"v":0.25},{"i":622,"v":0.0},{"i":627,"v":0.35},{"i":632,"v":-0.15},{"i":637,"v":0.2},{"i":642,"v":0.05},{"i":647,"v":0.3},
{"i":652,"v":-0.2},{"i":657,"v":0.3},{"i":662,"v":0.05},{"i":667,"v":0.35},{"i":672,"v":-0.15},{"i":677,"v":0.2},{"i":682,"v":-0.3},{"i":687,"v":0.25},{"i":692,"v":0.1},{"i":697,"v":-0.2},
{"i":702,"v":0.25},{"i":707,"v":-0.1},{"i":712,"v":0.3},{"i":717,"v":0.05},{"i":722,"v":-0.25},{"i":727,"v":0.2},{"i":732,"v":0.1},{"i":737,"v":0.3},{"i":742,"v":-0.15},{"i":747,"v":0.2},
{"i":752,"v":0.1},{"i":757,"v":-0.2},{"i":762,"v":0.3},{"i":767,"v":0.05},{"i":772,"v":-0.25},{"i":777,"v":0.35},{"i":782,"v":0.0},{"i":787,"v":0.2},{"i":792,"v":-0.1},{"i":797,"v":0.3},
{"i":802,"v":0.15},{"i":807,"v":-0.25},{"i":812,"v":0.3},{"i":817,"v":0.1},{"i":822,"v":-0.2},{"i":827,"v":0.35},{"i":832,"v":0.05},{"i":837,"v":-0.1},{"i":842,"v":0.3},{"i":847,"v":0.2},
{"i":852,"v":-0.1},{"i":857,"v":0.35},{"i":862,"v":0.05},{"i":867,"v":0.25},{"i":872,"v":-0.2},{"i":877,"v":0.3},{"i":882,"v":0.1},{"i":887,"v":-0.15},{"i":892,"v":0.3},{"i":897,"v":0.05},
{"i":902,"v":0.2},{"i":907,"v":-0.15},{"i":912,"v":0.35},{"i":917,"v":0.0},{"i":922,"v":0.25},{"i":927,"v":-0.2},{"i":932,"v":0.3},{"i":937,"v":0.1},{"i":942,"v":-0.1},{"i":947,"v":0.25},
{"i":952,"v":0.1},{"i":957,"v":-0.2},{"i":962,"v":0.3},{"i":967,"v":0.0},{"i":972,"v":0.2},{"i":977,"v":-0.15},{"i":982,"v":0.25},{"i":987,"v":-0.05},{"i":992,"v":0.2},{"i":997,"v":-0.1}],
"mixed_freq": [{"f":0,"v":0.14},{"f":1,"v":0.12},{"f":2,"v":0.06},{"f":3,"v":0.01},{"f":4,"v":0.008},{"f":5,"v":0.01},{"f":6,"v":0.005},{"f":7,"v":0.012},{"f":8,"v":0.006},{"f":9,"v":0.01},
{"f":10,"v":0.004},{"f":11,"v":0.008},{"f":12,"v":0.01},{"f":13,"v":0.005},{"f":14,"v":0.008},{"f":15,"v":0.006},{"f":16,"v":0.004},{"f":17,"v":0.01},{"f":18,"v":0.006},{"f":19,"v":0.005},
{"f":20,"v":0.008},{"f":21,"v":0.004},{"f":22,"v":0.01},{"f":23,"v":0.018},{"f":24,"v":0.008},{"f":25,"v":0.006},{"f":26,"v":0.015},{"f":27,"v":0.01},{"f":28,"v":0.012},{"f":29,"v":0.035},
{"f":30,"v":0.075},{"f":31,"v":0.05},{"f":32,"v":0.012},{"f":33,"v":0.008},{"f":34,"v":0.006},{"f":35,"v":0.01},{"f":36,"v":0.012},{"f":37,"v":0.007},{"f":38,"v":0.005},{"f":39,"v":0.009},
{"f":40,"v":0.006},{"f":41,"v":0.005},{"f":42,"v":0.008},{"f":43,"v":0.004},{"f":44,"v":0.007},{"f":45,"v":0.005},{"f":46,"v":0.006},{"f":47,"v":0.01},{"f":48,"v":0.012},{"f":49,"v":0.02},
{"f":50,"v":0.025},{"f":51,"v":0.012},{"f":52,"v":0.006},{"f":53,"v":0.005},{"f":54,"v":0.008},{"f":55,"v":0.004},{"f":56,"v":0.006},{"f":57,"v":0.009},{"f":58,"v":0.012},{"f":59,"v":0.015},
{"f":60,"v":0.006},{"f":61,"v":0.008},{"f":62,"v":0.01},{"f":63,"v":0.015},{"f":64,"v":0.007},{"f":65,"v":0.004},{"f":66,"v":0.006},{"f":67,"v":0.008},{"f":68,"v":0.005},{"f":69,"v":0.006},
{"f":70,"v":0.007},{"f":71,"v":0.01},{"f":72,"v":0.006},{"f":73,"v":0.008},{"f":74,"v":0.012},{"f":75,"v":0.015},{"f":76,"v":0.01},{"f":77,"v":0.008},{"f":78,"v":0.006},{"f":79,"v":0.008},
{"f":80,"v":0.01},{"f":81,"v":0.007},{"f":82,"v":0.006},{"f":83,"v":0.008},{"f":84,"v":0.007},{"f":85,"v":0.01},{"f":86,"v":0.012},{"f":87,"v":0.02},{"f":88,"v":0.015},{"f":89,"v":0.03},
{"f":90,"v":0.035},{"f":91,"v":0.02},{"f":92,"v":0.015},{"f":93,"v":0.04},{"f":94,"v":0.05},{"f":95,"v":0.02},{"f":96,"v":0.06},{"f":97,"v":0.115},{"f":98,"v":0.08},{"f":99,"v":0.01},
{"f":100,"v":0.02},{"f":101,"v":0.055},{"f":102,"v":0.03},{"f":103,"v":0.012},{"f":104,"v":0.01},{"f":105,"v":0.008},{"f":106,"v":0.012},{"f":107,"v":0.01},{"f":108,"v":0.008},{"f":109,"v":0.006},
{"f":110,"v":0.01},{"f":111,"v":0.015},{"f":112,"v":0.04},{"f":113,"v":0.085},{"f":114,"v":0.03},{"f":115,"v":0.01},{"f":116,"v":0.008},{"f":117,"v":0.012},{"f":118,"v":0.01},{"f":119,"v":0.025},
{"f":120,"v":0.015},{"f":121,"v":0.012},{"f":122,"v":0.022},{"f":123,"v":0.015},{"f":124,"v":0.03},{"f":125,"v":0.03},{"f":126,"v":0.012},{"f":127,"v":0.01},{"f":128,"v":0.02},{"f":129,"v":0.042},
{"f":130,"v":0.025},{"f":131,"v":0.01},{"f":132,"v":0.008},{"f":133,"v":0.012},{"f":134,"v":0.02},{"f":135,"v":0.012},{"f":136,"v":0.008},{"f":137,"v":0.01},{"f":138,"v":0.008},{"f":139,"v":0.012},
{"f":140,"v":0.018},{"f":141,"v":0.01},{"f":142,"v":0.008},{"f":143,"v":0.01},{"f":144,"v":0.012},{"f":145,"v":0.008},{"f":146,"v":0.01},{"f":147,"v":0.012},{"f":148,"v":0.02},{"f":149,"v":0.035},
{"f":150,"v":0.05},{"f":151,"v":0.06},{"f":152,"v":0.045},{"f":153,"v":0.005},{"f":154,"v":0.1},{"f":155,"v":0.08},{"f":156,"v":0.02},{"f":157,"v":0.01},{"f":158,"v":0.012},{"f":159,"v":0.01},
{"f":160,"v":0.015},{"f":161,"v":0.02},{"f":162,"v":0.03},{"f":163,"v":0.028},{"f":164,"v":0.015},{"f":165,"v":0.01},{"f":166,"v":0.008},{"f":167,"v":0.01},{"f":168,"v":0.015},{"f":169,"v":0.022},
{"f":170,"v":0.01},{"f":171,"v":0.008},{"f":172,"v":0.01},{"f":173,"v":0.012},{"f":174,"v":0.01},{"f":175,"v":0.008},{"f":176,"v":0.01},{"f":177,"v":0.012},{"f":178,"v":0.01},{"f":179,"v":0.015},
{"f":180,"v":0.02},{"f":181,"v":0.03},{"f":182,"v":0.06},{"f":183,"v":1.0},{"f":184,"v":0.98},{"f":185,"v":0.08},{"f":186,"v":0.02},{"f":187,"v":0.012},{"f":188,"v":0.01},{"f":189,"v":0.008},
{"f":190,"v":0.01},{"f":191,"v":0.012},{"f":192,"v":0.015},{"f":193,"v":0.01},{"f":194,"v":0.02},{"f":195,"v":0.028},{"f":196,"v":0.02},{"f":197,"v":0.028},{"f":198,"v":0.012},{"f":199,"v":0.015},{"f":200,"v":0.005}],
"sum_time": [{"i":5,"v":0.25},{"i":10,"v":-0.05},{"i":15,"v":0.15},{"i":20,"v":-0.25},{"i":25,"v":0.32},{"i":30,"v":0.05},{"i":35,"v":-0.2},{"i":40,"v":0.37},{"i":45,"v":-0.1},{"i":50,"v":0.2},
{"i":55,"v":0.46},{"i":60,"v":-0.15},{"i":65,"v":0.1},{"i":70,"v":-0.3},{"i":75,"v":0.25},{"i":80,"v":0.0},{"i":85,"v":-0.2},{"i":90,"v":0.15},{"i":95,"v":-0.1},{"i":100,"v":0.2},
{"i":105,"v":-0.15},{"i":110,"v":0.1},{"i":115,"v":0.78},{"i":120,"v":-0.68},{"i":125,"v":0.25},{"i":130,"v":-0.3},{"i":135,"v":0.15},{"i":140,"v":-0.1},{"i":145,"v":0.2},{"i":150,"v":-0.35},
{"i":155,"v":0.1},{"i":160,"v":0.48},{"i":165,"v":-0.4},{"i":170,"v":0.15},{"i":175,"v":-0.2},{"i":180,"v":0.25},{"i":185,"v":-0.1},{"i":190,"v":0.83},{"i":195,"v":-0.85},{"i":200,"v":0.2},
{"i":205,"v":-0.3},{"i":210,"v":0.42},{"i":215,"v":-0.1},{"i":220,"v":0.2},{"i":225,"v":-0.25},{"i":230,"v":0.1},{"i":235,"v":0.3},{"i":240,"v":-0.15},{"i":245,"v":0.74},{"i":250,"v":0.2},
{"i":255,"v":-0.3},{"i":260,"v":0.25},{"i":265,"v":0.05},{"i":270,"v":-0.1},{"i":275,"v":0.3},{"i":280,"v":-0.2},{"i":285,"v":0.15},{"i":290,"v":-0.25},{"i":295,"v":0.2},{"i":300,"v":0.0},
{"i":305,"v":0.25},{"i":310,"v":-0.2},{"i":315,"v":0.1},{"i":320,"v":0.82},{"i":325,"v":-0.5},{"i":330,"v":0.15},{"i":335,"v":-0.2},{"i":340,"v":0.25},{"i":345,"v":-0.1},{"i":350,"v":-0.3},
{"i":355,"v":0.15},{"i":360,"v":-0.25},{"i":365,"v":0.2},{"i":370,"v":-0.1},{"i":375,"v":0.63},{"i":380,"v":-0.8},{"i":385,"v":0.35},{"i":390,"v":-0.2},{"i":395,"v":0.1},{"i":400,"v":0.25},
{"i":405,"v":-0.15},{"i":410,"v":0.3},{"i":415,"v":-0.25},{"i":420,"v":0.1},{"i":425,"v":0.2},{"i":430,"v":-0.2},{"i":435,"v":0.15},{"i":440,"v":0.43},{"i":445,"v":-0.3},{"i":450,"v":0.76},
{"i":455,"v":-0.1},{"i":460,"v":0.25},{"i":465,"v":-0.2},{"i":470,"v":0.1},{"i":475,"v":-0.43},{"i":480,"v":0.2},{"i":485,"v":0.0},{"i":490,"v":-0.15},{"i":495,"v":0.3},{"i":500,"v":-0.1},
{"i":505,"v":0.61},{"i":510,"v":-0.62},{"i":515,"v":0.2},{"i":520,"v":-0.1},{"i":525,"v":0.15},{"i":530,"v":-0.2},{"i":535,"v":0.3},{"i":540,"v":0.1},{"i":545,"v":0.3},{"i":550,"v":0.2},
{"i":555,"v":0.05},{"i":560,"v":0.3},{"i":565,"v":0.15},{"i":570,"v":0.25},{"i":575,"v":0.98},{"i":580,"v":-0.53},{"i":585,"v":0.62},{"i":590,"v":0.2},{"i":595,"v":0.35},{"i":600,"v":0.1},
{"i":605,"v":0.45},{"i":610,"v":0.2},{"i":615,"v":0.5},{"i":620,"v":0.25},{"i":625,"v":0.4},{"i":630,"v":-0.2},{"i":635,"v":0.8},{"i":640,"v":-0.76},{"i":645,"v":0.3},{"i":650,"v":0.1},
{"i":655,"v":0.25},{"i":660,"v":-0.1},{"i":665,"v":0.2},{"i":670,"v":0.0},{"i":675,"v":0.15},{"i":680,"v":-0.2},{"i":685,"v":0.1},{"i":690,"v":0.05},{"i":695,"v":-0.25},{"i":700,"v":0.2},
{"i":705,"v":-0.15},{"i":710,"v":1.0},{"i":715,"v":-0.7},{"i":720,"v":0.2},{"i":725,"v":-0.2},{"i":730,"v":0.1},{"i":735,"v":-0.3},{"i":740,"v":0.2},{"i":745,"v":-0.25},{"i":750,"v":0.1},
{"i":755,"v":-0.3},{"i":760,"v":0.2},{"i":765,"v":-0.68},{"i":770,"v":0.49},{"i":775,"v":-0.2},{"i":780,"v":0.1},{"i":785,"v":-0.35},{"i":790,"v":0.25},{"i":795,"v":-0.1},{"i":800,"v":0.15},
{"i":805,"v":-0.3},{"i":810,"v":0.2},{"i":815,"v":-0.1},{"i":820,"v":0.15},{"i":825,"v":-0.35},{"i":830,"v":0.1},{"i":835,"v":0.64},{"i":840,"v":-0.42},{"i":845,"v":0.2},{"i":850,"v":-0.2},
{"i":855,"v":0.3},{"i":860,"v":-0.3},{"i":865,"v":0.1},{"i":870,"v":0.2},{"i":875,"v":-0.25},{"i":880,"v":0.15},{"i":885,"v":-0.2},{"i":890,"v":0.1},{"i":895,"v":0.66},{"i":900,"v":-0.45},
{"i":905,"v":0.2},{"i":910,"v":-0.2},{"i":915,"v":0.1},{"i":920,"v":-0.3},{"i":925,"v":0.25},{"i":930,"v":-0.1},{"i":935,"v":0.2},{"i":940,"v":-0.35},{"i":945,"v":0.15},{"i":950,"v":-0.25},
{"i":955,"v":0.22},{"i":960,"v":-0.1},{"i":965,"v":0.3},{"i":970,"v":-0.4},{"i":975,"v":0.7},{"i":980,"v":-0.82},{"i":985,"v":0.1},{"i":990,"v":-0.2},{"i":995,"v":0.38},{"i":1000,"v":0.0},
{"i":2,"v":0.05},{"i":7,"v":0.15},{"i":12,"v":-0.1},{"i":17,"v":0.1},{"i":22,"v":-0.05},{"i":27,"v":0.2},{"i":32,"v":0.0},{"i":37,"v":-0.15},{"i":42,"v":0.12},{"i":47,"v":0.05},
{"i":52,"v":-0.1},{"i":57,"v":0.15},{"i":62,"v":-0.05},{"i":67,"v":0.1},{"i":72,"v":-0.15},{"i":77,"v":0.08},{"i":82,"v":0.18},{"i":87,"v":-0.1},{"i":92,"v":0.05},{"i":97,"v":-0.05},
{"i":102,"v":0.1},{"i":107,"v":-0.12},{"i":112,"v":0.15},{"i":117,"v":0.02},{"i":122,"v":-0.18},{"i":127,"v":0.1},{"i":132,"v":-0.05},{"i":137,"v":0.12},{"i":142,"v":-0.1},{"i":147,"v":0.05},
{"i":152,"v":-0.15},{"i":157,"v":0.05},{"i":162,"v":0.12},{"i":167,"v":-0.08},{"i":172,"v":0.1},{"i":177,"v":-0.2},{"i":182,"v":0.05},{"i":187,"v":-0.12},{"i":192,"v":0.15},{"i":197,"v":-0.05},
{"i":202,"v":0.1},{"i":207,"v":-0.08},{"i":212,"v":0.18},{"i":217,"v":0.02},{"i":222,"v":0.12},{"i":227,"v":-0.1},{"i":232,"v":0.15},{"i":237,"v":0.05},{"i":242,"v":-0.05},{"i":247,"v":0.2},
{"i":252,"v":0.08},{"i":257,"v":-0.05},{"i":262,"v":0.15},{"i":267,"v":0.1},{"i":272,"v":-0.1},{"i":277,"v":0.12},{"i":282,"v":0.0},{"i":287,"v":0.15},{"i":292,"v":-0.08},{"i":297,"v":0.1},
{"i":302,"v":-0.05},{"i":307,"v":0.1},{"i":312,"v":-0.12},{"i":317,"v":0.15},{"i":322,"v":0.02},{"i":327,"v":-0.1},{"i":332,"v":0.08},{"i":337,"v":-0.15},{"i":342,"v":0.1},{"i":347,"v":0.0},
{"i":352,"v":-0.1},{"i":357,"v":0.05},{"i":362,"v":-0.15},{"i":367,"v":0.1},{"i":372,"v":-0.05},{"i":377,"v":0.12},{"i":382,"v":-0.2},{"i":387,"v":0.05},{"i":392,"v":-0.08},{"i":397,"v":0.1},
{"i":402,"v":0.05},{"i":407,"v":-0.1},{"i":412,"v":0.12},{"i":417,"v":0.0},{"i":422,"v":-0.08},{"i":427,"v":0.15},{"i":432,"v":-0.05},{"i":437,"v":0.1},{"i":442,"v":0.02},{"i":447,"v":0.12},
{"i":452,"v":0.05},{"i":457,"v":-0.1},{"i":462,"v":0.08},{"i":467,"v":-0.05},{"i":472,"v":0.1},{"i":477,"v":-0.15},{"i":482,"v":0.05},{"i":487,"v":0.1},{"i":492,"v":-0.08},{"i":497,"v":0.05},
{"i":502,"v":-0.05},{"i":507,"v":0.1},{"i":512,"v":0.0},{"i":517,"v":0.12},{"i":522,"v":-0.05},{"i":527,"v":0.15},{"i":532,"v":0.05},{"i":537,"v":0.18},{"i":542,"v":0.1},{"i":547,"v":0.2},
{"i":552,"v":0.12},{"i":557,"v":0.25},{"i":562,"v":0.1},{"i":567,"v":0.3},{"i":572,"v":0.2},{"i":577,"v":0.15},{"i":582,"v":0.3},{"i":587,"v":0.08},{"i":592,"v":0.25},{"i":597,"v":0.2},
{"i":602,"v":0.3},{"i":607,"v":0.15},{"i":612,"v":0.35},{"i":617,"v":0.2},{"i":622,"v":0.28},{"i":627,"v":0.1},{"i":632,"v":0.25},{"i":637,"v":0.05},{"i":642,"v":0.2},{"i":647,"v":0.15},
{"i":652,"v":0.1},{"i":657,"v":0.05},{"i":662,"v":0.15},{"i":667,"v":-0.05},{"i":672,"v":0.1},{"i":677,"v":0.02},{"i":682,"v":-0.1},{"i":687,"v":0.12},{"i":692,"v":-0.05},{"i":697,"v":0.05},
{"i":702,"v":0.08},{"i":707,"v":-0.1},{"i":712,"v":0.05},{"i":717,"v":-0.12},{"i":722,"v":0.1},{"i":727,"v":-0.05},{"i":732,"v":0.02},{"i":737,"v":-0.15},{"i":742,"v":0.1},{"i":747,"v":-0.08},
{"i":752,"v":-0.05},{"i":757,"v":-0.15},{"i":762,"v":0.05},{"i":767,"v":-0.1},{"i":772,"v":0.08},{"i":777,"v":-0.12},{"i":782,"v":0.0},{"i":787,"v":-0.18},{"i":792,"v":0.05},{"i":797,"v":-0.1},
{"i":802,"v":-0.08},{"i":807,"v":0.05},{"i":812,"v":-0.15},{"i":817,"v":0.02},{"i":822,"v":-0.1},{"i":827,"v":0.1},{"i":832,"v":-0.2},{"i":837,"v":0.05},{"i":842,"v":-0.05},{"i":847,"v":0.08},
{"i":852,"v":0.05},{"i":857,"v":-0.1},{"i":862,"v":0.12},{"i":867,"v":-0.05},{"i":872,"v":0.1},{"i":877,"v":0.0},{"i":882,"v":-0.12},{"i":887,"v":0.08},{"i":892,"v":-0.05},{"i":897,"v":0.1},
{"i":902,"v":0.05},{"i":907,"v":-0.12},{"i":912,"v":0.1},{"i":917,"v":-0.05},{"i":922,"v":0.12},{"i":927,"v":-0.08},{"i":932,"v":0.05},{"i":937,"v":-0.15},{"i":942,"v":0.08},{"i":947,"v":-0.02},
{"i":952,"v":0.1},{"i":957,"v":-0.05},{"i":962,"v":0.12},{"i":967,"v":-0.1},{"i":972,"v":0.05},{"i":977,"v":-0.15},{"i":982,"v":0.08},{"i":987,"v":0.0},{"i":992,"v":0.12},{"i":997,"v":-0.05}],
"sum_freq": [{"f":1,"v":0.56},{"f":2,"v":0.77},{"f":3,"v":0.25},{"f":4,"v":0.04},{"f":5,"v":0.17},{"f":6,"v":0.06},{"f":7,"v":0.02},{"f":8,"v":0.05},{"f":9,"v":0.1},{"f":10,"v":0.09},
{"f":11,"v":0.06},{"f":12,"v":0.16},{"f":13,"v":0.12},{"f":14,"v":0.05},{"f":15,"v":0.03},{"f":16,"v":0.02},{"f":17,"v":0.06},{"f":18,"v":0.12},{"f":19,"v":0.1},{"f":20,"v":0.04},
{"f":21,"v":0.07},{"f":22,"v":0.1},{"f":23,"v":0.1},{"f":24,"v":0.11},{"f":25,"v":0.19},{"f":26,"v":0.1},{"f":27,"v":0.11},{"f":28,"v":0.07},{"f":29,"v":0.1},{"f":30,"v":0.28},
{"f":31,"v":0.26},{"f":32,"v":0.2},{"f":33,"v":0.04},{"f":34,"v":0.06},{"f":35,"v":0.14},{"f":36,"v":0.13},{"f":37,"v":0.08},{"f":38,"v":0.11},{"f":39,"v":0.1},{"f":40,"v":0.06},
{"f":41,"v":0.03},{"f":42,"v":0.1},{"f":43,"v":0.12},{"f":44,"v":0.18},{"f":45,"v":0.15},{"f":46,"v":0.07},{"f":47,"v":0.05},{"f":48,"v":0.02},{"f":49,"v":0.03},{"f":50,"v":0.04},
{"f":51,"v":0.07},{"f":52,"v":0.1},{"f":53,"v":0.08},{"f":54,"v":0.1},{"f":55,"v":0.14},{"f":56,"v":0.12},{"f":57,"v":0.08},{"f":58,"v":0.11},{"f":59,"v":0.09},{"f":60,"v":0.05},
{"f":61,"v":0.09},{"f":62,"v":0.12},{"f":63,"v":0.1},{"f":64,"v":0.12},{"f":65,"v":0.1},{"f":66,"v":0.11},{"f":67,"v":0.08},{"f":68,"v":0.04},{"f":69,"v":0.07},{"f":70,"v":0.1},
{"f":71,"v":0.12},{"f":72,"v":0.14},{"f":73,"v":0.11},{"f":74,"v":0.06},{"f":75,"v":0.07},{"f":76,"v":0.05},{"f":77,"v":0.03},{"f":78,"v":0.07},{"f":79,"v":0.05},{"f":80,"v":0.03},
{"f":81,"v":0.06},{"f":82,"v":0.1},{"f":83,"v":0.18},{"f":84,"v":0.22},{"f":85,"v":0.2},{"f":86,"v":0.1},{"f":87,"v":0.06},{"f":88,"v":0.08},{"f":89,"v":0.07},{"f":90,"v":0.05},
{"f":91,"v":0.1},{"f":92,"v":0.08},{"f":93,"v":0.15},{"f":94,"v":0.19},{"f":95,"v":0.12},{"f":96,"v":0.06},{"f":97,"v":0.08},{"f":98,"v":0.05},{"f":99,"v":0.03},{"f":100,"v":0.06},
{"f":101,"v":0.1},{"f":102,"v":0.06},{"f":103,"v":0.09},{"f":104,"v":0.05},{"f":105,"v":0.03},{"f":106,"v":0.04},{"f":107,"v":0.05},{"f":108,"v":0.07},{"f":109,"v":0.08},{"f":110,"v":0.1},
{"f":111,"v":0.13},{"f":112,"v":0.07},{"f":113,"v":0.15},{"f":114,"v":0.09},{"f":115,"v":0.04},{"f":116,"v":0.09},{"f":117,"v":0.07},{"f":118,"v":0.04},{"f":119,"v":0.19},{"f":120,"v":0.12},
{"f":121,"v":0.06},{"f":122,"v":0.08},{"f":123,"v":0.05},{"f":124,"v":0.1},{"f":125,"v":0.05},{"f":126,"v":0.24},{"f":127,"v":0.12},{"f":128,"v":0.06},{"f":129,"v":0.1},{"f":130,"v":0.1},
{"f":131,"v":0.29},{"f":132,"v":0.2},{"f":133,"v":0.03},{"f":134,"v":0.14},{"f":135,"v":0.12},{"f":136,"v":0.07},{"f":137,"v":0.23},{"f":138,"v":0.05},{"f":139,"v":0.18},{"f":140,"v":0.23},
{"f":141,"v":0.08},{"f":142,"v":0.15},{"f":143,"v":0.19},{"f":144,"v":0.12},{"f":145,"v":0.26},{"f":146,"v":0.15},{"f":147,"v":0.05},{"f":148,"v":0.1},{"f":149,"v":0.16},{"f":150,"v":0.08},
{"f":151,"v":0.2},{"f":152,"v":0.45},{"f":153,"v":0.2},{"f":154,"v":0.07},{"f":155,"v":0.31},{"f":156,"v":0.1},{"f":157,"v":0.05},{"f":158,"v":0.29},{"f":159,"v":0.12},{"f":160,"v":0.03},
{"f":161,"v":0.15},{"f":162,"v":0.34},{"f":163,"v":0.06},{"f":164,"v":0.07},{"f":165,"v":0.06},{"f":166,"v":0.1},{"f":167,"v":0.2},{"f":168,"v":0.56},{"f":169,"v":0.35},{"f":170,"v":0.1},
{"f":171,"v":0.08},{"f":172,"v":0.12},{"f":173,"v":0.04},{"f":174,"v":0.36},{"f":175,"v":0.38},{"f":176,"v":0.05},{"f":177,"v":0.3},{"f":178,"v":0.25},{"f":179,"v":0.03},{"f":180,"v":0.24},
{"f":181,"v":0.1},{"f":182,"v":0.03},{"f":183,"v":1.0},{"f":184,"v":0.3},{"f":185,"v":0.12},{"f":186,"v":0.1},{"f":187,"v":0.09},{"f":188,"v":0.44},{"f":189,"v":0.47},{"f":190,"v":0.14},
{"f":191,"v":0.1},{"f":192,"v":0.07},{"f":193,"v":0.08},{"f":194,"v":0.16},{"f":195,"v":0.33},{"f":196,"v":0.34},{"f":197,"v":0.12},{"f":198,"v":0.35},{"f":199,"v":0.35},{"f":200,"v":0.14}]
},
"spacing": 72,
"vconcat": [
 {"hconcat": [
  {"title": {"text": "(a) Bruit blanc", "orient": "bottom", "anchor": "middle", "font": "DejaVu Sans", "fontStyle": "oblique", "fontWeight": "normal", "fontSize": 23, "color": "#000000", "offset": 21, "dx": 7},
   "spacing": 17,
   "hconcat": [
    {"width": 251, "height": 226, "data": {"name": "white_time"},
     "resolve": {"axis": {"x": "independent", "y": "independent"}},
     "layer": [
      {"mark": {"type": "line", "opacity": 0},
       "encoding": {
        "x": {"field": "i", "type": "quantitative", "scale": {"domain": [-39, 1040], "nice": false, "zero": false}, "axis": {"orient": "bottom", "values": [68.9,176.8,284.7,392.6,500.5,608.4,716.3,824.2,932.1], "grid": true, "labels": false, "ticks": false, "title": null}},
        "y": {"field": "v", "type": "quantitative", "scale": {"domain": [-1.007, 1.077], "nice": false, "zero": false}, "axis": {"orient": "left", "values": [-0.799,-0.59,-0.382,-0.173,0.035,0.243,0.452,0.66,0.869], "grid": true, "labels": false, "ticks": false, "title": null}}}},
      {"mark": {"type": "line", "color": "#3a8de6", "strokeWidth": 0.8},
       "encoding": {
        "x": {"field": "i", "type": "quantitative", "scale": {"domain": [-39, 1040], "nice": false, "zero": false}, "axis": {"orient": "bottom", "values": [0,200,400,600,800,1000], "format": "d", "title": "Index"}},
        "y": {"field": "v", "type": "quantitative", "scale": {"domain": [-1.007, 1.077], "nice": false, "zero": false}, "axis": {"orient": "left", "values": [-1,-0.5,0,0.5,1], "title": "Normalized Amplitude", "labelExpr": "replace(format(datum.value, '.1f'), '\u2212', '-')"}}}}
     ]},
    {"width": 258, "height": 226, "data": {"name": "white_freq"},
     "resolve": {"axis": {"x": "independent", "y": "independent"}},
     "layer": [
      {"mark": {"type": "line", "opacity": 0},
       "encoding": {
        "x": {"field": "f", "type": "quantitative", "scale": {"domain": [-8, 208], "nice": false, "zero": false}, "axis": {"orient": "bottom", "values": [13.6,35.2,56.8,78.4,100,121.6,143.2,164.8,186.4], "grid": true, "labels": false, "ticks": false, "title": null}},
        "y": {"field": "v", "type": "quantitative", "scale": {"domain": [-0.04, 1.04], "nice": false, "zero": false}, "axis": {"orient": "left", "values": [0.068,0.176,0.284,0.392,0.5,0.608,0.716,0.824,0.932], "grid": true, "labels": false, "ticks": false, "title": null}}}},
      {"mark": {"type": "line", "color": "#ff0000", "strokeWidth": 0.9},
       "encoding": {
        "x": {"field": "f", "type": "quantitative", "scale": {"domain": [-8, 208], "nice": false, "zero": false}, "axis": {"orient": "bottom", "values": [0,50,100,150,200], "format": "d", "title": "Frequency (KHz)"}},
        "y": {"field": "v", "type": "quantitative", "scale": {"domain": [-0.04, 1.04], "nice": false, "zero": false}, "axis": {"orient": "left", "values": [0,0.2,0.4,0.6,0.8,1], "title": "Normalized Amplitude", "format": ".1f"}}}}
     ]}
   ]},
  {"title": {"text": "(b) Bruit électrique", "orient": "bottom", "anchor": "middle", "font": "DejaVu Sans", "fontStyle": "oblique", "fontWeight": "normal", "fontSize": 23, "color": "#000000", "offset": 21, "dx": 7},
   "spacing": 17,
   "hconcat": [
    {"width": 252, "height": 226, "data": {"name": "elec_time"},
     "resolve": {"axis": {"x": "independent", "y": "independent"}},
     "layer": [
      {"mark": {"type": "line", "opacity": 0},
       "encoding": {
        "x": {"field": "i", "type": "quantitative", "scale": {"domain": [-4.2, 136.2], "nice": false, "zero": false}, "axis": {"orient": "bottom", "values": [9.84,23.88,37.92,51.96,66,80.04,94.08,108.12,122.16], "grid": true, "labels": false, "ticks": false, "title": null}},
        "y": {"field": "v", "type": "quantitative", "scale": {"domain": [-1.007, 1.077], "nice": false, "zero": false}, "axis": {"orient": "left", "values": [-0.799,-0.59,-0.382,-0.173,0.035,0.243,0.452,0.66,0.869], "grid": true, "labels": false, "ticks": false, "title": null}}}},
      {"mark": {"type": "line", "color": "#3a8de6", "strokeWidth": 0.9},
       "encoding": {
        "x": {"field": "i", "type": "quantitative", "scale": {"domain": [-4.2, 136.2], "nice": false, "zero": false}, "axis": {"orient": "bottom", "values": [0,20,40,60,80,100,120], "format": "d", "title": "Index"}},
        "y": {"field": "v", "type": "quantitative", "scale": {"domain": [-1.007, 1.077], "nice": false, "zero": false}, "axis": {"orient": "left", "values": [-1,-0.5,0,0.5,1], "title": "Normalized Amplitude", "labelExpr": "replace(format(datum.value, '.1f'), '\u2212', '-')"}}}}
     ]},
    {"width": 258, "height": 226, "data": {"name": "elec_freq"},
     "resolve": {"axis": {"x": "independent", "y": "independent"}},
     "layer": [
      {"mark": {"type": "line", "opacity": 0},
       "encoding": {
        "x": {"field": "f", "type": "quantitative", "scale": {"domain": [-4.8, 206.3], "nice": false, "zero": false}, "axis": {"orient": "bottom", "values": [16.31,37.42,58.53,79.64,100.75,121.86,142.97,164.08,185.19], "grid": true, "labels": false, "ticks": false, "title": null}},
        "y": {"field": "v", "type": "quantitative", "scale": {"domain": [-0.04, 1.04], "nice": false, "zero": false}, "axis": {"orient": "left", "values": [0.068,0.176,0.284,0.392,0.5,0.608,0.716,0.824,0.932], "grid": true, "labels": false, "ticks": false, "title": null}}}},
      {"mark": {"type": "line", "color": "#ff1a1a", "strokeWidth": 1.1},
       "encoding": {
        "x": {"field": "f", "type": "quantitative", "scale": {"domain": [-4.8, 206.3], "nice": false, "zero": false}, "axis": {"orient": "bottom", "values": [0,50,100,150,200], "format": "d", "title": "Frequency (KHz)"}},
        "y": {"field": "v", "type": "quantitative", "scale": {"domain": [-0.04, 1.04], "nice": false, "zero": false}, "axis": {"orient": "left", "values": [0,0.2,0.4,0.6,0.8,1], "title": "Normalized Amplitude", "format": ".1f"}}}}
     ]}
   ]}
 ], "spacing": 52},
 {"hconcat": [
  {"title": {"text": "(c) Bruit mixte", "orient": "bottom", "anchor": "middle", "font": "DejaVu Sans", "fontStyle": "oblique", "fontWeight": "normal", "fontSize": 23, "color": "#000000", "offset": 21, "dx": 7},
   "spacing": 17,
   "hconcat": [
    {"width": 252, "height": 224, "data": {"name": "mixed_time"},
     "resolve": {"axis": {"x": "independent", "y": "independent"}},
     "layer": [
      {"mark": {"type": "line", "opacity": 0},
       "encoding": {
        "x": {"field": "i", "type": "quantitative", "scale": {"domain": [-39, 1040], "nice": false, "zero": false}, "axis": {"orient": "bottom", "values": [68.9,176.8,284.7,392.6,500.5,608.4,716.3,824.2,932.1], "grid": true, "labels": false, "ticks": false, "title": null}},
        "y": {"field": "v", "type": "quantitative", "scale": {"domain": [-1.232, 1.086], "nice": false, "zero": false}, "axis": {"orient": "left", "values": [-1.0,-0.768,-0.536,-0.305,-0.073,0.159,0.391,0.622,0.854], "grid": true, "labels": false, "ticks": false, "title": null}}}},
      {"mark": {"type": "line", "color": "#3a8de6", "strokeWidth": 0.8},
       "encoding": {
        "x": {"field": "i", "type": "quantitative", "scale": {"domain": [-39, 1040], "nice": false, "zero": false}, "axis": {"orient": "bottom", "values": [0,200,400,600,800,1000], "format": "d", "title": "Index"}},
        "y": {"field": "v", "type": "quantitative", "scale": {"domain": [-1.232, 1.086], "nice": false, "zero": false}, "axis": {"orient": "left", "values": [-1,-0.5,0,0.5,1], "title": "Normalized Amplitude", "labelExpr": "replace(format(datum.value, '.1f'), '\u2212', '-')"}}}}
     ]},
    {"width": 258, "height": 224, "data": {"name": "mixed_freq"},
     "resolve": {"axis": {"x": "independent", "y": "independent"}},
     "layer": [
      {"mark": {"type": "line", "opacity": 0},
       "encoding": {
        "x": {"field": "f", "type": "quantitative", "scale": {"domain": [-8, 208], "nice": false, "zero": false}, "axis": {"orient": "bottom", "values": [13.6,35.2,56.8,78.4,100,121.6,143.2,164.8,186.4], "grid": true, "labels": false, "ticks": false, "title": null}},
        "y": {"field": "v", "type": "quantitative", "scale": {"domain": [-0.04, 1.04], "nice": false, "zero": false}, "axis": {"orient": "left", "values": [0.068,0.176,0.284,0.392,0.5,0.608,0.716,0.824,0.932], "grid": true, "labels": false, "ticks": false, "title": null}}}},
      {"mark": {"type": "line", "color": "#ff1a1a", "strokeWidth": 1.1},
       "encoding": {
        "x": {"field": "f", "type": "quantitative", "scale": {"domain": [-8, 208], "nice": false, "zero": false}, "axis": {"orient": "bottom", "values": [0,50,100,150,200], "format": "d", "title": "Frequency (KHz)"}},
        "y": {"field": "v", "type": "quantitative", "scale": {"domain": [-0.04, 1.04], "nice": false, "zero": false}, "axis": {"orient": "left", "values": [0,0.2,0.4,0.6,0.8,1], "title": "Normalized Amplitude", "format": ".1f"}}}}
     ]}
   ]},
  {"title": {"text": "(d) Somme des bruits blanc, électrique et mixte", "orient": "bottom", "anchor": "middle", "font": "DejaVu Sans", "fontStyle": "oblique", "fontWeight": "normal", "fontSize": 23, "color": "#000000", "offset": 21, "dx": 7},
   "spacing": 17,
   "hconcat": [
    {"width": 252, "height": 224, "data": {"name": "sum_time"},
     "resolve": {"axis": {"x": "independent", "y": "independent"}},
     "layer": [
      {"mark": {"type": "line", "opacity": 0},
       "encoding": {
        "x": {"field": "i", "type": "quantitative", "scale": {"domain": [-39, 1040], "nice": false, "zero": false}, "axis": {"orient": "bottom", "values": [68.9,176.8,284.7,392.6,500.5,608.4,716.3,824.2,932.1], "grid": true, "labels": false, "ticks": false, "title": null}},
        "y": {"field": "v", "type": "quantitative", "scale": {"domain": [-0.903, 1.073], "nice": false, "zero": false}, "axis": {"orient": "left", "values": [-0.705,-0.508,-0.31,-0.113,0.085,0.283,0.48,0.678,0.875], "grid": true, "labels": false, "ticks": false, "title": null}}}},
      {"mark": {"type": "line", "color": "#3a8de6", "strokeWidth": 0.8},
       "encoding": {
        "x": {"field": "i", "type": "quantitative", "scale": {"domain": [-39, 1040], "nice": false, "zero": false}, "axis": {"orient": "bottom", "values": [0,200,400,600,800,1000], "format": "d", "title": "Index"}},
        "y": {"field": "v", "type": "quantitative", "scale": {"domain": [-0.903, 1.073], "nice": false, "zero": false}, "axis": {"orient": "left", "values": [-0.5,0,0.5,1], "title": "Normalized Amplitude", "labelExpr": "replace(format(datum.value, '.1f'), '\u2212', '-')"}}}}
     ]},
    {"width": 258, "height": 224, "data": {"name": "sum_freq"},
     "resolve": {"axis": {"x": "independent", "y": "independent"}},
     "layer": [
      {"mark": {"type": "line", "opacity": 0},
       "encoding": {
        "x": {"field": "f", "type": "quantitative", "scale": {"domain": [-6.9, 205.8], "nice": false, "zero": false}, "axis": {"orient": "bottom", "values": [14.37,35.64,56.91,78.18,99.45,120.72,141.99,163.26,184.53], "grid": true, "labels": false, "ticks": false, "title": null}},
        "y": {"field": "v", "type": "quantitative", "scale": {"domain": [-0.019, 1.039], "nice": false, "zero": false}, "axis": {"orient": "left", "values": [0.087,0.192,0.298,0.404,0.51,0.616,0.722,0.827,0.933], "grid": true, "labels": false, "ticks": false, "title": null}}}},
      {"mark": {"type": "line", "color": "#ff1a1a", "strokeWidth": 1.1},
       "encoding": {
        "x": {"field": "f", "type": "quantitative", "scale": {"domain": [-6.9, 205.8], "nice": false, "zero": false}, "axis": {"orient": "bottom", "values": [0,50,100,150,200], "format": "d", "title": "Frequency (KHz)"}},
        "y": {"field": "v", "type": "quantitative", "scale": {"domain": [-0.019, 1.039], "nice": false, "zero": false}, "axis": {"orient": "left", "values": [0,0.2,0.4,0.6,0.8,1], "title": "Normalized Amplitude", "format": ".1f"}}}}
     ]}
   ]}
 ], "spacing": 52}
]
}
